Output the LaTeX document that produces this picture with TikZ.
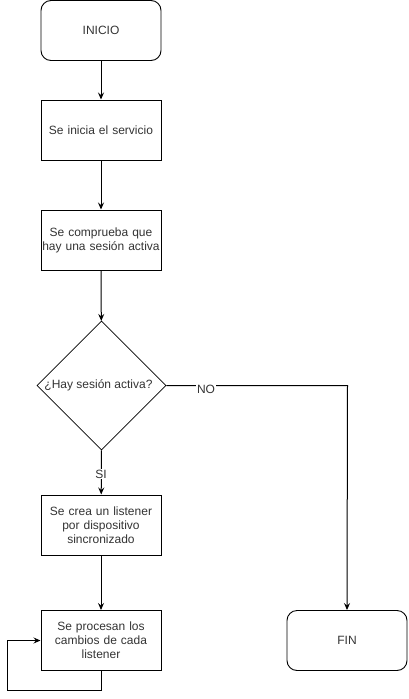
\documentclass[tikz,border=0pt]{standalone}
\usepackage{fontspec}
\setmainfont{Liberation Sans}
\usetikzlibrary{shapes.geometric,arrows.meta}
\begin{document}
\begin{tikzpicture}[x=1pt,y=-1pt,
  every node/.style={font=\fontsize{12}{14}\selectfont, text=black!80},
  proc/.style={draw, line width=1pt, minimum width=120pt, minimum height=60pt, align=center, text width=118pt, inner sep=1pt},
  term/.style={draw, line width=0.9pt, rounded corners=10pt, minimum width=120pt, minimum height=60pt},
  dec/.style={draw, line width=0.6pt, diamond, minimum width=129pt, minimum height=129pt, inner sep=0pt, aspect=1},
  conn/.style={line width=1pt, -{Stealth[length=7pt,width=6pt,inset=2.5pt]}},
  lbl/.style={fill=white, inner sep=1pt}]
\useasboundingbox (0,0) rectangle (408,699);
\node[term] (inicio) at (101,30.5) {INICIO};
\node[proc] (b1) at (101,130) {Se inicia el servicio};
\node[proc] (b2) at (101,240) {Se comprueba que\\hay una sesión activa};
\node[dec, draw=black] (d) at (101.5,385.5) {\hspace{-6pt}¿Hay sesión activa?\hspace{-6pt}};
\node[proc] (b3) at (101,525) {Se crea un listener\\por dispositivo\\sincronizado};
\node[proc] (b4) at (101,640.5) {Se procesan los\\cambios de cada\\listener};
\node[term] (fin) at (347,640.5) {FIN};
\coordinate (c1) at (347.5,385.5);
\coordinate (l1) at (101,690);
\coordinate (l2) at (7,690);
\coordinate (l3) at (7,640.5);
\draw[conn] (inicio) -- (b1);
\draw[conn] (b1) -- (b2);
\draw[conn] (b2) -- (d);
\draw[conn] (d.east) -- (c1) -- (fin.north);
\draw[conn] (d.south) -- (b3);
\draw[conn] (b3) -- (b4);
\draw[conn] (b4.south) -- (l1) -- (l2) -- (l3) -- (b4.west);
\node[lbl] at (206,389) {NO};
\node[lbl] at (101,474) {SI};
\end{tikzpicture}
\end{document}
